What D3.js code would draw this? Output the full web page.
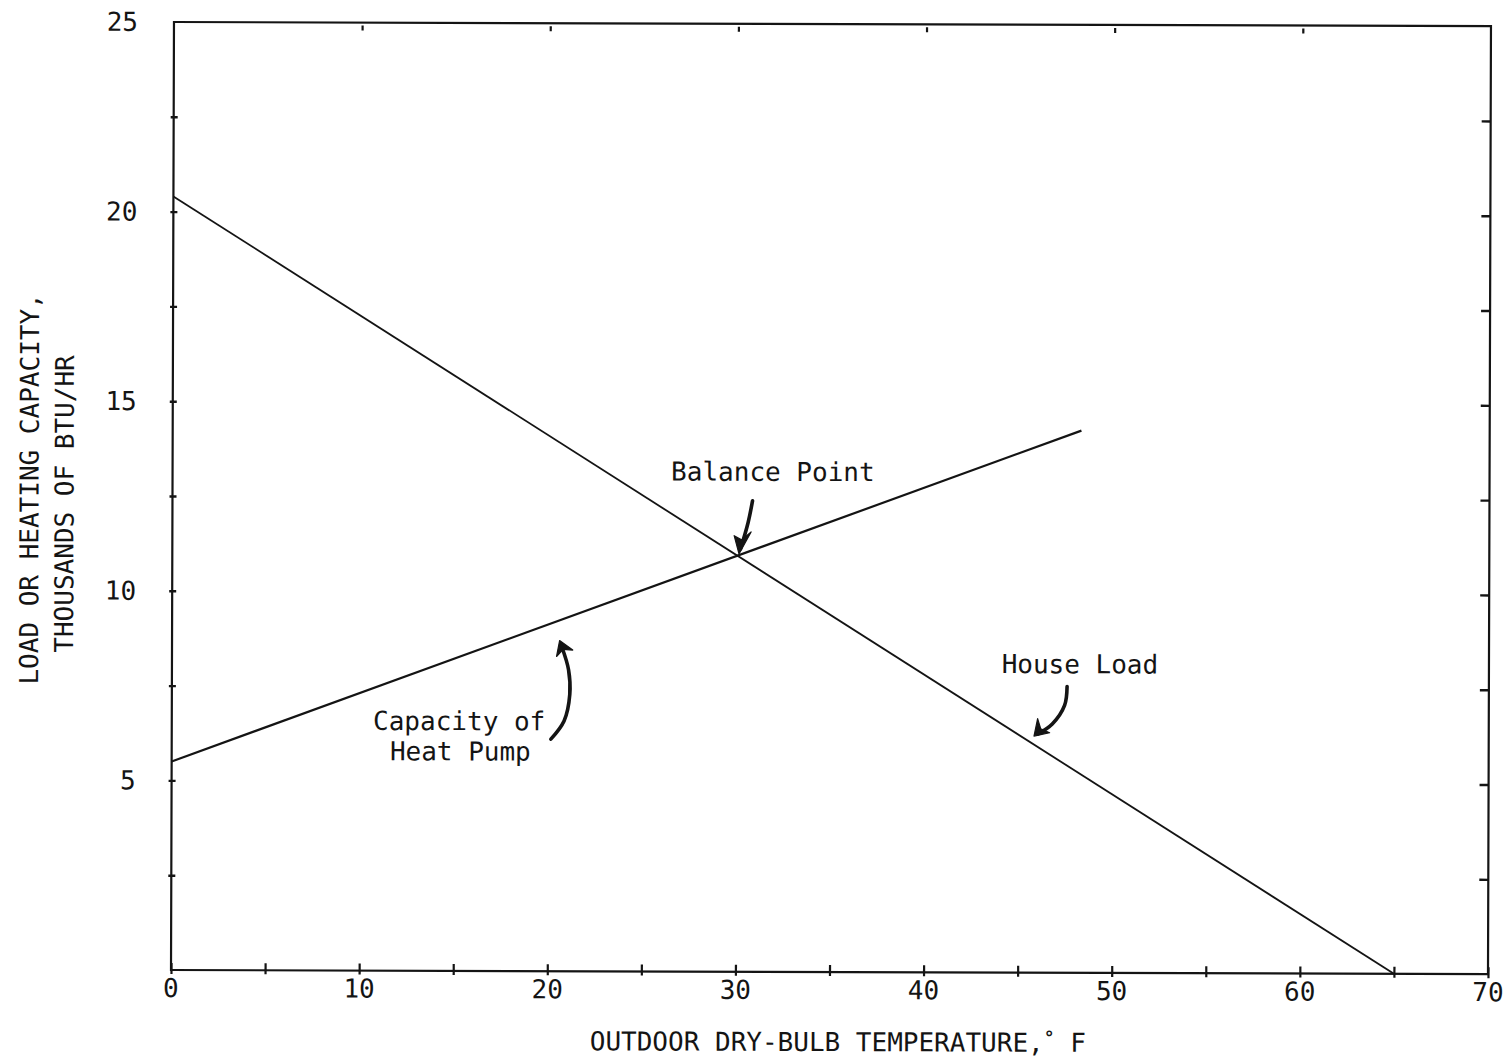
<!DOCTYPE html>
<html>
<head>
<meta charset="utf-8">
<script src="https://cdn.jsdelivr.net/npm/d3@7"></script>
<style>
  html, body { margin: 0; padding: 0; background: #fff; }
  svg text { font-family: "DejaVu Sans Mono", "Liberation Mono", monospace; fill: #141414; }
</style>
</head>
<body>
<svg id="chart" width="1505" height="1057"></svg>
<script>
// Outdoor temperature axis (°F)
const temperatureLabels = [0, 10, 20, 30, 40, 50, 60, 70];
const temperatureMinorTicks = [0, 5, 10, 15, 20, 25, 30, 35, 40, 45, 50, 55, 60, 65, 70];
const temperatureTopTicks = [10, 20, 30, 40, 50, 60];

// Load / heating capacity axis (thousands of BTU/hr)
const loadLabels = [5, 10, 15, 20, 25];
const loadMinorTicks = [2.5, 5, 7.5, 10, 12.5, 15, 17.5, 20, 22.5];

// House heating load line
const houseLoadTemp = [0, 65];
const houseLoadBtu = [20.4, 0];

// Heat pump heating capacity line
const heatPumpTemp = [0, 48.3];
const heatPumpBtu = [5.5, 14.3];

// Callout labels, anchored in data units
const calloutText = ["Balance Point", "House Load", "Capacity of", "Heat Pump"];
const calloutTemp = [26.5, 44.1, 10.7, 11.6];
const calloutBtu = [12.95, 7.9, 6.35, 5.55];

// Hand-drawn pointer arrows (shaft points then arrowhead: tip, arm, arm)
const balanceArrowShaft = [[30.83, 12.42], [30.6, 11.85], [30.2, 11.15]];
const balanceArrowHead = [[30.12, 11.02], [29.86, 11.5], [30.76, 11.6]];
const pumpArrowShaft = [[20.15, 6.12], [20.85, 6.6], [21.15, 7.3], [21.08, 7.95], [20.72, 8.55]];
const pumpArrowHead = [[20.6, 8.72], [20.44, 8.3], [21.3, 8.47]];
const houseArrowShaft = [[47.58, 7.55], [47.45, 7.05], [46.8, 6.56], [46.05, 6.3]];
const houseArrowHead = [[45.83, 6.24], [46.02, 6.7], [46.66, 6.33]];

const margin = { left: 171, top: 22 };
const plotW = 1317, plotH = 948;

const svg = d3.select("#chart");
const root = svg.append("g")
  .attr("transform", `rotate(0.18, ${margin.left}, ${margin.top + plotH})`);
const g = root.append("g").attr("transform", `translate(${margin.left},${margin.top})`);

const x = d3.scaleLinear().domain([0, 70]).range([0, plotW]);
const y = d3.scaleLinear().domain([0, 25]).range([plotH, 0]);

const ink = "#141414";

// Frame
g.append("rect")
  .attr("x", x(0)).attr("y", y(25))
  .attr("width", x(70) - x(0)).attr("height", y(0) - y(25))
  .attr("fill", "none").attr("stroke", ink).attr("stroke-width", 2.2);

// Bottom ticks (crossing the axis)
const bottomTicks = g.append("g").attr("transform", `translate(0,${y(0)})`)
  .call(d3.axisBottom(x).tickValues(temperatureMinorTicks).tickSize(0).tickFormat(""));
bottomTicks.select(".domain").remove();
bottomTicks.selectAll(".tick").append("line")
  .attr("y1", -7).attr("y2", 4).attr("stroke", ink).attr("stroke-width", 2.2);

// Top ticks
const topTicks = g.append("g").attr("transform", `translate(0,${y(25)})`)
  .call(d3.axisTop(x).tickValues(temperatureTopTicks).tickSize(0).tickFormat(""));
topTicks.select(".domain").remove();
topTicks.selectAll(".tick").append("line")
  .attr("y1", 3).attr("y2", 8).attr("stroke", ink).attr("stroke-width", 2.2);

// Left ticks
const leftTicks = g.append("g").attr("transform", `translate(${x(0)},0)`)
  .call(d3.axisLeft(y).tickValues(loadMinorTicks).tickSize(0).tickFormat(""));
leftTicks.select(".domain").remove();
leftTicks.selectAll(".tick").append("line")
  .attr("x1", -3).attr("x2", 4).attr("stroke", ink).attr("stroke-width", 2.4);

// Right ticks
const rightTicks = g.append("g").attr("transform", `translate(${x(70)},0)`)
  .call(d3.axisRight(y).tickValues(loadMinorTicks).tickSize(0).tickFormat(""));
rightTicks.select(".domain").remove();
rightTicks.selectAll(".tick").append("line")
  .attr("x1", -9).attr("x2", 0).attr("stroke", ink).attr("stroke-width", 2.4);

// Tick labels
g.append("g").selectAll("text").data(temperatureLabels).join("text")
  .attr("x", d => x(d)).attr("y", y(0) + 27)
  .attr("text-anchor", "middle").attr("font-size", 26)
  .text(d => d);

g.append("g").selectAll("text").data(loadLabels).join("text")
  .attr("x", x(0) - 36).attr("y", d => y(d) + 9)
  .attr("text-anchor", "end").attr("font-size", 26)
  .text(d => d);

// Axis titles
g.append("text")
  .attr("x", 590 - margin.left).attr("y", 1049 - margin.top)
  .attr("font-size", 26)
  .text("OUTDOOR DRY-BULB TEMPERATURE,")
  .append("tspan").attr("font-size", 18).attr("font-weight", "bold").attr("dy", -8).text("°")
  .clone(true).attr("font-size", 26).attr("font-weight", null).attr("dy", 8).text(" F");

g.append("text")
  .attr("transform", `translate(${37 - margin.left},${685 - margin.top}) rotate(-90)`)
  .attr("font-size", 26)
  .text("LOAD OR HEATING CAPACITY,");
g.append("text")
  .attr("transform", `translate(${72 - margin.left},${653 - margin.top}) rotate(-90)`)
  .attr("font-size", 26)
  .text("THOUSANDS OF BTU/HR");

// Data lines
const line = d3.line().x(d => x(d[0])).y(d => y(d[1]));
g.append("path")
  .datum(houseLoadTemp.map((t, i) => [t, houseLoadBtu[i]]))
  .attr("d", line).attr("fill", "none").attr("stroke", ink).attr("stroke-width", 1.8);
g.append("path")
  .datum(heatPumpTemp.map((t, i) => [t, heatPumpBtu[i]]))
  .attr("d", line).attr("fill", "none").attr("stroke", ink).attr("stroke-width", 2.2);

// Callout labels
g.append("g").selectAll("text").data(calloutText).join("text")
  .attr("x", (d, i) => x(calloutTemp[i])).attr("y", (d, i) => y(calloutBtu[i]))
  .attr("font-size", 26)
  .text(d => d);

// Pointer arrows
const curve = d3.line().x(d => x(d[0])).y(d => y(d[1])).curve(d3.curveCatmullRom.alpha(0.5));
function arrow(shaft, head) {
  g.append("path").datum(shaft).attr("d", curve)
    .attr("fill", "none").attr("stroke", ink).attr("stroke-width", 3.6)
    .attr("stroke-linecap", "round");
  const [tip, a1, a2] = head;
  const mid = [(a1[0] + a2[0]) / 2 * 0.7 + tip[0] * 0.3, (a1[1] + a2[1]) / 2 * 0.7 + tip[1] * 0.3];
  g.append("path").datum([tip, a1, mid, a2])
    .attr("d", d => "M" + d.map(p => [x(p[0]), y(p[1])].join(",")).join("L") + "Z")
    .attr("fill", ink).attr("stroke", ink).attr("stroke-width", 1.2)
    .attr("stroke-linejoin", "round");
}
arrow(balanceArrowShaft, balanceArrowHead);
arrow(pumpArrowShaft, pumpArrowHead);
arrow(houseArrowShaft, houseArrowHead);
</script>
</body>
</html>
